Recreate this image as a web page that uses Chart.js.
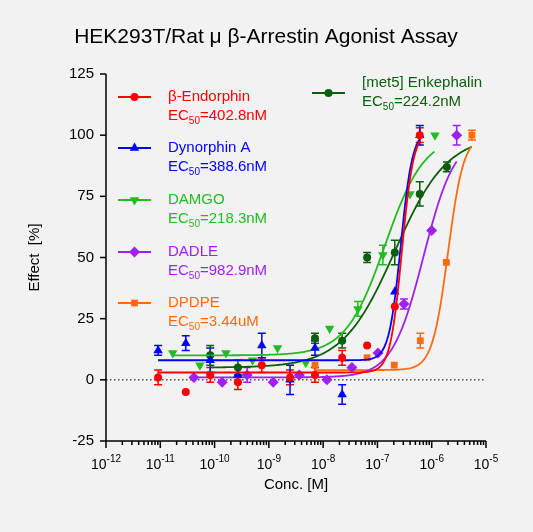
<!DOCTYPE html>
<html><head><meta charset="utf-8">
<script src="https://cdn.jsdelivr.net/npm/chart.js@4.4.1/dist/chart.umd.min.js"></script>
<style>html,body{margin:0;padding:0;background:#f2f2f2;}#w{width:533px;height:532px;}</style>
</head><body><div id="w"><canvas id="c"></canvas></div>
<script>
// log10 concentration, effect %, error
const endoX=[-11.04,-10.53,-10.08,-9.57,-9.13,-8.61,-8.15,-7.65,-7.19,-6.68,-6.22];
const endoY=[1,-5,2,-1,6,1,2,9,14,30,100];
const endoE=[3,0,3,3,3,3,3,3,0,0,3];
const dynX=[-11.04,-10.53,-10.08,-9.57,-9.13,-8.61,-8.15,-7.65,-6.68,-6.22];
const dynY=[12,15,8,2,14,0,13,-6,36,100];
const dynE=[2,3,5,3,5,6,3,4,0,4];
const damX=[-10.77,-10.27,-9.79,-9.30,-8.84,-8.32,-7.88,-7.36,-6.90,-6.40,-5.94];
const damY=[11,6,11,8,13,7,21,29,51,76,100];
const damE=[0,0,0,0,0,0,0,3,4,0,0];
const metX=[-10.08,-9.57,-8.15,-7.65,-7.19,-6.68,-6.22,-5.72];
const metY=[10,5,17,16,50,52,76,87];
const metE=[4,3,2,3,2,5,5,2];
const dadX=[-10.38,-9.86,-9.40,-8.92,-8.44,-7.93,-7.47,-6.99,-6.51,-6.00,-5.54];
const dadY=[1,-1,2,-1,2,0,5,11,31,61,100];
const dadE=[0,0,3,0,0,0,0,0,2,0,4];
const dpdX=[-8.15,-7.19,-6.69,-6.21,-5.73,-5.26];
const dpdY=[6,9,6,16,48,100];
const dpdE=[0,0,0,3,0,2];
// fit parameters: bottom, top, logEC50, hill, xFrom, xTo
const endoFit=[3,102,-6.55,4,-11.04,-6.22];
const dynFit=[8,102,-6.57,4,-11.04,-6.22];
const damFit=[10,100,-6.86,1.2,-10.77,-5.94];
const metFit=[5,100,-6.68,0.9,-10.08,-5.26];
const dadFit=[1,100,-6.15,1.5,-10.38,-5.54];
const dpdFit=[4,100,-5.70,3,-8.15,-5.26];
const yTicks=[-25,0,25,50,75,100,125];
const xTicks=[-12,-11,-10,-9,-8,-7,-6,-5];

function fit(p){const [b,t,m,h,a,z]=p;const o=[];for(let x=a;x<=z+1e-9;x+=0.02){o.push({x:x,y:b+(t-b)/(1+Math.pow(10,h*(m-x)))});}return o;}
function pts(X,Y){return X.map((x,i)=>({x:x,y:Y[i]}));}
const series=[
 {name:'β-Endorphin',ec:'=402.8nM',c:'#ff0000',s:'circle',r:0,pr:4,X:endoX,Y:endoY,E:endoE,F:endoFit,lx:118,ly:97,my:97},
 {name:'Dynorphin A',ec:'=388.6nM',c:'#0000ff',s:'triangle',r:0,pr:5.5,X:dynX,Y:dynY,E:dynE,F:dynFit,lx:118,ly:148,my:148},
 {name:'DAMGO',ec:'=218.3nM',c:'#22bb22',s:'triangle',r:180,pr:5.5,X:damX,Y:damY,E:damE,F:damFit,lx:118,ly:200,my:200},
 {name:'DADLE',ec:'=982.9nM',c:'#a020f0',s:'rectRot',r:0,pr:5.5,X:dadX,Y:dadY,E:dadE,F:dadFit,lx:118,ly:252,my:252},
 {name:'DPDPE',ec:'=3.44uM',c:'#ff6a10',s:'rect',r:0,pr:4.8,X:dpdX,Y:dpdY,E:dpdE,F:dpdFit,lx:118,ly:303,my:303},
 {name:'[met5] Enkephalin',ec:'=224.2nM',c:'#0b5e0b',s:'circle',r:0,pr:4,X:metX,Y:metY,E:metE,F:metFit,lx:312,ly:83,my:93}
];
const ds=[];
series.forEach(s=>{
 ds.push({type:'line',data:fit(s.F),borderColor:s.c,borderWidth:1.8,pointRadius:0,fill:false,tension:0});
 ds.push({type:'scatter',data:pts(s.X,s.Y),backgroundColor:s.c,borderColor:s.c,pointStyle:s.s,rotation:s.r,pointRadius:s.pr,borderWidth:0,errs:s.E});
});
const F='Arial, "Liberation Sans", sans-serif';
const deco={id:'deco',
 beforeDatasetsDraw(ch){const ctx=ch.ctx,xs=ch.scales.x,ys=ch.scales.y,a=ch.chartArea;
  ctx.save();ctx.strokeStyle='#000';ctx.lineWidth=1;ctx.setLineDash([1.5,2.5]);
  ctx.beginPath();ctx.moveTo(a.left,ys.getPixelForValue(0));ctx.lineTo(a.right,ys.getPixelForValue(0));ctx.stroke();ctx.restore();
  ch.data.datasets.forEach(d=>{if(!d.errs)return;ctx.save();ctx.strokeStyle=d.borderColor;ctx.lineWidth=1.5;
   d.data.forEach((p,i)=>{const e=d.errs[i];if(!e)return;const x=xs.getPixelForValue(p.x),y1=ys.getPixelForValue(p.y-e),y2=ys.getPixelForValue(p.y+e);
    ctx.beginPath();ctx.moveTo(x,y1);ctx.lineTo(x,y2);ctx.moveTo(x-4,y1);ctx.lineTo(x+4,y1);ctx.moveTo(x-4,y2);ctx.lineTo(x+4,y2);ctx.stroke();});
   ctx.restore();});
 },
 afterDraw(ch){const ctx=ch.ctx,xs=ch.scales.x,ys=ch.scales.y,a=ch.chartArea;
  ctx.save();ctx.strokeStyle='#000';ctx.lineWidth=1.5;ctx.fillStyle='#000';
  ctx.beginPath();ctx.moveTo(a.left,a.top);ctx.lineTo(a.left,a.bottom);ctx.lineTo(a.right,a.bottom);ctx.stroke();
  ctx.font='15px '+F;ctx.textAlign='right';ctx.textBaseline='middle';
  yTicks.forEach(v=>{const y=ys.getPixelForValue(v);ctx.beginPath();ctx.moveTo(a.left-6,y);ctx.lineTo(a.left,y);ctx.stroke();ctx.fillText(String(v),a.left-12,y);});
  xTicks.forEach((v,i)=>{const x=xs.getPixelForValue(v);ctx.beginPath();ctx.moveTo(x,a.bottom);ctx.lineTo(x,a.bottom+7);ctx.stroke();
   if(i<xTicks.length-1){for(let k=2;k<10;k++){const mx=xs.getPixelForValue(v+Math.log10(k));ctx.beginPath();ctx.moveTo(mx,a.bottom);ctx.lineTo(mx,a.bottom+4);ctx.stroke();}}
   ctx.font='14px '+F;ctx.textAlign='left';const w1=ctx.measureText('10').width;ctx.font='10px '+F;const w2=ctx.measureText(String(v)).width;
   const sx=x-(w1+w2)/2;ctx.font='14px '+F;ctx.fillText('10',sx,a.bottom+24);ctx.font='10px '+F;ctx.fillText(String(v),sx+w1,a.bottom+18);});
  ctx.textAlign='center';ctx.font='15px '+F;ctx.fillText('Conc. [M]',(a.left+a.right)/2,485);
  ctx.save();ctx.translate(35,(a.top+a.bottom)/2);ctx.rotate(-Math.PI/2);ctx.fillText('Effect  [%]',0,0);ctx.restore();
  ctx.font='21px '+F;ctx.fillText('HEK293T/Rat μ β-Arrestin Agonist Assay',266,37);
  series.forEach(s=>{ctx.strokeStyle=s.c;ctx.fillStyle=s.c;ctx.lineWidth=2;ctx.beginPath();ctx.moveTo(s.lx,s.my);ctx.lineTo(s.lx+33,s.my);ctx.stroke();
   Chart.helpers.drawPoint(ctx,{pointStyle:s.s,radius:s.pr,rotation:s.r,borderWidth:0},s.lx+16.5,s.my);
   ctx.textAlign='left';ctx.font='15px '+F;const tx=s.lx+50;ctx.fillText(s.name,tx,s.ly);
   const y2=s.ly+19;ctx.fillText('EC',tx,y2);const w=ctx.measureText('EC').width;ctx.font='10px '+F;ctx.fillText('50',tx+w,y2+5);const w3=ctx.measureText('50').width;
   ctx.font='15px '+F;ctx.fillText(s.ec,tx+w+w3,y2);});
  ctx.restore();}
};
new Chart(document.getElementById('c'),{type:'scatter',data:{datasets:ds},plugins:[deco],
 options:{responsive:true,maintainAspectRatio:false,animation:false,devicePixelRatio:1,
  layout:{padding:{left:106,right:47,top:74,bottom:91}},
  plugins:{legend:{display:false},tooltip:{enabled:false}},
  scales:{x:{type:'linear',min:-12,max:-5,display:false},y:{min:-25,max:125,display:false}}}});
</script></body></html>
